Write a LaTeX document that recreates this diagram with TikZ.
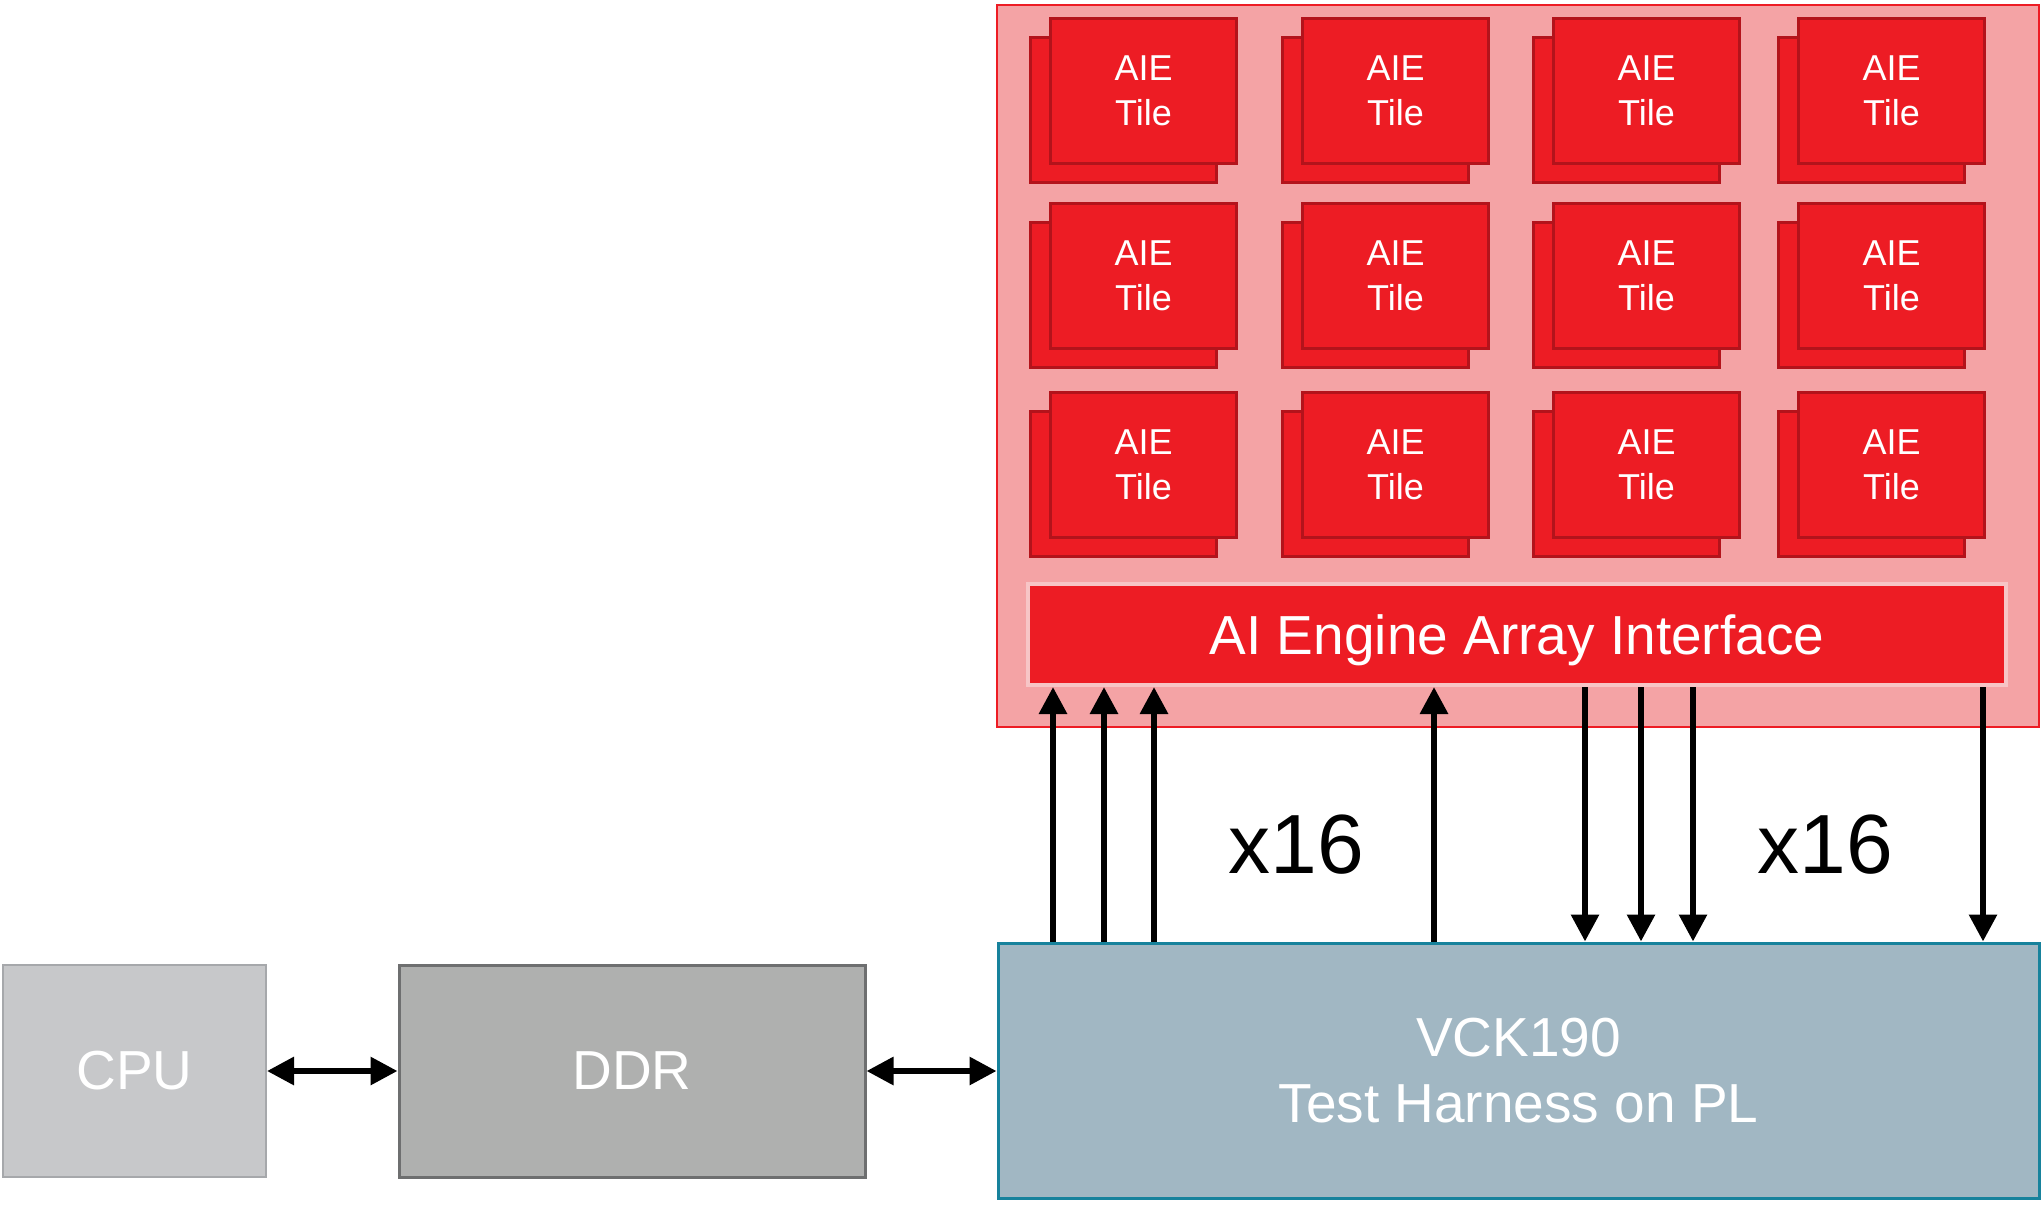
\documentclass[tikz,border=0pt]{standalone}
\usepackage{fontspec}
\setmainfont{Liberation Sans}
\usetikzlibrary{arrows.meta}
\definecolor{pinkbg}{HTML}{F4A3A5}
\definecolor{aiered}{HTML}{ED1C24}
\definecolor{tileborder}{HTML}{B3131B}
\definecolor{ifaceborder}{HTML}{F7C5C6}
\definecolor{cpufill}{HTML}{C7C8CA}
\definecolor{cpuborder}{HTML}{A6A8AB}
\definecolor{ddrfill}{HTML}{AFB0AF}
\definecolor{ddrborder}{HTML}{6E6F70}
\definecolor{vckfill}{HTML}{A1B7C3}
\definecolor{vckborder}{HTML}{17829C}
\begin{document}
\begin{tikzpicture}[x=0.5pt,y=-0.5pt,
  backtile/.style={draw=tileborder, fill=aiered, line width=1.5pt,
    minimum width=93pt, minimum height=72.5pt, inner sep=0pt},
  tile/.style={backtile, text=white, align=center,
    font=\fontsize{18pt}{22.5pt}\selectfont},
  blk/.style={inner sep=0pt, text=white, align=center,
    font=\fontsize{27.5pt}{33pt}\selectfont},
  tipx/.tip={Triangle[width=13.5pt,length=13.5pt]},
  arr/.style={line width=3pt, -tipx},
  dbl/.style={line width=3pt, tipx-tipx},
  lbl/.style={font=\fontsize{42pt}{42pt}\selectfont, anchor=base, inner sep=0pt}
]
\useasboundingbox (0,0) rectangle (2044,1205);
\fill[white] (0,0) rectangle (2044,1205);

% AI Engine array container
\node[draw=aiered, fill=pinkbg, line width=1pt, minimum width=521pt,
  minimum height=361pt, inner sep=0pt] (aie) at (1518,365.5) {};

% tiles
\foreach \cx [count=\i] in {1143.5,1395.5,1646.5,1891.5}{
  \foreach \cy [count=\j] in {91,276,465}{
    \node[backtile] (b-\i-\j) at (\cx-20,\cy+19) {};
    \node[tile] (t-\i-\j) at (\cx,\cy) {AIE\\Tile};
  }
}

% interface
\node[draw=ifaceborder, fill=aiered, line width=2pt, minimum width=489pt,
  minimum height=50.5pt, inner sep=0pt, text=white, text depth=0pt,
  font=\fontsize{27.5pt}{27.5pt}\selectfont] (iface) at (1517,634.5)
  {AI Engine Array Interface};

% bottom blocks
\node[blk, draw=cpuborder, fill=cpufill, line width=1pt,
  minimum width=131.5pt, minimum height=106pt] (cpu) at (134.5,1071) {CPU};
\node[blk, draw=ddrborder, fill=ddrfill, line width=1.5pt,
  minimum width=233pt, minimum height=106pt] (ddr) at (632,1071) {DDR};
\node[blk, draw=vckborder, fill=vckfill, line width=1.5pt,
  minimum width=520.5pt, minimum height=127.5pt] (vck) at (1518.5,1070.5)
  {VCK190\\Test Harness on PL};

% horizontal connectors
\draw[dbl] (cpu.east) -- (ddr.west);
\draw[dbl] (ddr.east) -- (vck.west |- ddr.east);

% vertical connectors
\foreach \x [count=\k] in {1053,1104,1154,1434}{
  \coordinate (u\k) at (\x,0);
  \draw[arr] (vck.north -| u\k) -- (iface.south -| u\k);
}
\foreach \x [count=\k] in {1585,1641,1693,1983}{
  \coordinate (d\k) at (\x,0);
  \draw[arr] (iface.south -| d\k) -- (vck.north -| d\k);
}

% labels
\node[lbl] (x1) at (1296,873) {x16};
\node[lbl] (x2) at (1825,873) {x16};
\end{tikzpicture}
\end{document}
